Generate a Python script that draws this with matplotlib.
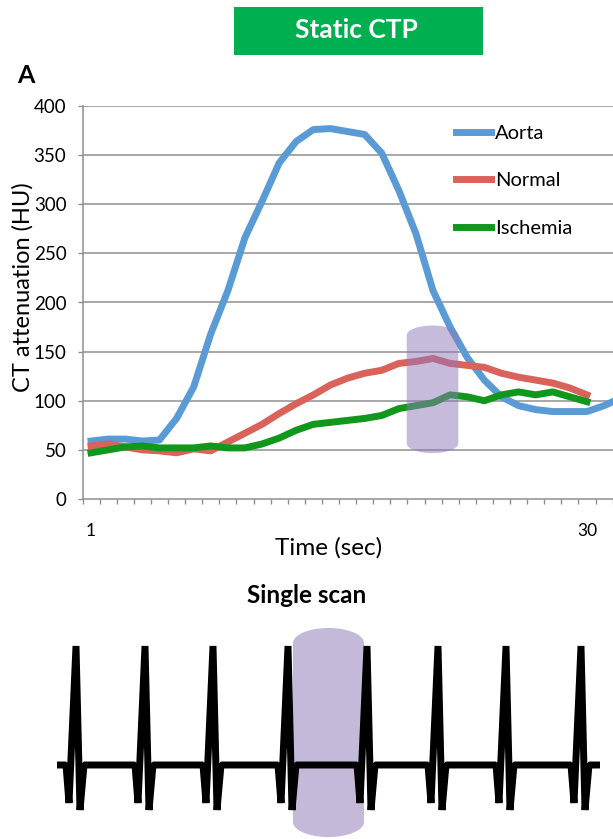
import numpy as np
import matplotlib
matplotlib.use("Agg")
import matplotlib.pyplot as plt
from matplotlib.patches import Polygon, Rectangle

plt.rcParams['font.family'] = ['Lato', 'DejaVu Sans']

# time points (sec) and the three curves
time_pts = np.arange(1, 31)
aorta = [59, 61, 61, 59, 60, 82, 114, 168, 212, 266, 303, 342, 364, 376, 377,
         374, 371, 352, 314, 270, 212, 175, 144, 121, 104, 95, 91, 89, 89, 89,
         95, 103]
normal = [54, 56, 53, 50, 49, 47, 51, 49, 58, 67, 76, 87, 97, 106, 116,
          123, 128, 131, 138, 140, 143, 138, 136, 134, 128, 124, 121, 118, 113, 106]
ischemia = [47, 50, 53, 54, 52, 52, 52, 54, 52, 52, 56, 62, 70, 76, 78,
            80, 82, 85, 92, 95, 98, 106, 104, 100, 106, 109, 106, 109, 104, 99]
series_names = ["Aorta", "Normal", "Ischemia"]
series_colors = ["#5b9bd5", "#d9625b", "#11981c"]
y_ticks = [0, 50, 100, 150, 200, 250, 300, 350, 400]
x_tick_labels = {1: "1", 30: "30"}

# scan window on the curve (time range, HU range)
scan_t = (19.46, 22.48)
scan_hu = (46.7, 176.6)

# ECG schematic: R-peak positions (px) and beat shape offsets
r_peaks = [76, 145, 213, 288, 367, 438, 506, 581]
beat_dx = [-10, -7, 0, 4, 8]
beat_y = [765, 803, 646, 810, 765]
ecg_window = (293, 364, 628, 839)

band_color = "#9079b9"


def cylinder(x0, x1, y0, y1, cap):
    # rectangle with half-ellipse caps top and bottom
    xc = (x0 + x1) / 2
    hw = (x1 - x0) / 2
    t = np.linspace(0, np.pi, 40)
    top = np.column_stack([xc + hw * np.cos(t), y1 - cap + cap * np.sin(t)])
    bot = np.column_stack([xc - hw * np.cos(t), y0 + cap - cap * np.sin(t)])
    return np.vstack([top, bot])


fig = plt.figure(figsize=(6.13, 8.39), dpi=100)

# ---- top chart
ax = fig.add_axes([82.5 / 613, 1 - 499 / 839, 1 - 82.5 / 613, 393 / 839])
grid_gray = "#8f8f8f"
for v in y_ticks[1:]:
    ax.axhline(v, color=grid_gray, lw=1.1, zorder=1)

lw = 5.0
ax.plot(np.arange(1, len(aorta) + 1), aorta, color=series_colors[0], lw=lw,
        label=series_names[0], zorder=3, solid_joinstyle='round')
ax.plot(time_pts, normal, color=series_colors[1], lw=lw,
        label=series_names[1], zorder=3, solid_joinstyle='round')
ax.plot(time_pts, ischemia, color=series_colors[2], lw=lw,
        label=series_names[2], zorder=3, solid_joinstyle='round')

ax.add_patch(Polygon(cylinder(scan_t[0], scan_t[1], scan_hu[0], scan_hu[1], 10),
                     closed=True, facecolor=band_color, alpha=0.5,
                     edgecolor='none', zorder=4))

ax.set_xlim(0.5, 0.5 + 530.5 / 17.1)
ax.set_ylim(0, 400)
for side in ["top", "right"]:
    ax.spines[side].set_visible(False)
for side in ["left", "bottom"]:
    ax.spines[side].set_color(grid_gray)
    ax.spines[side].set_linewidth(1.1)

ax.set_yticks(y_ticks)
ax.tick_params(axis='y', length=3.6, width=1.0, color=grid_gray,
               labelsize=13.5, pad=8)
ax.set_xticks(list(x_tick_labels.keys()))
ax.set_xticklabels(list(x_tick_labels.values()))
ax.set_xticks(np.arange(0.5, 32, 1), minor=True)
ax.tick_params(axis='x', which='major', length=0, labelsize=12.5, pad=17)
ax.tick_params(axis='x', which='minor', length=3.6, width=1.0, color=grid_gray)

ax.set_ylabel("CT attenuation (HU)", fontsize=17)
ax.yaxis.set_label_coords(-0.093, 0.539)
ax.set_xlabel("Time (sec)", fontsize=17.5)
ax.xaxis.set_label_coords(0.463, -0.097)

ax.legend(loc='upper left', bbox_to_anchor=((456 - 82.5) / 530.5, (499 - 125) / 393),
          frameon=False, fontsize=14.5, handlelength=1.75, handletextpad=0.2,
          labelspacing=1.5, borderaxespad=0, borderpad=0)

# ---- titles and panel letter
fig.patches.append(Rectangle((234 / 613, 1 - 55 / 839), 249 / 613, 48 / 839,
                             transform=fig.transFigure, facecolor="#00b050",
                             edgecolor='none'))
fig.text(356 / 613, 1 - 38 / 839, "Static CTP", color="white", fontsize=19,
         fontweight='bold', ha='center', va='baseline')
fig.text(17 / 613, 1 - 83 / 839, "A", fontsize=18, fontweight='bold',
         ha='left', va='baseline')
fig.text(307 / 613, 1 - 603 / 839, "Single scan", fontsize=17.5,
         fontweight='bold', ha='center', va='baseline')

# ---- ECG strip
ax2 = fig.add_axes([0, 0, 1, 1])
ax2.set_xlim(0, 613)
ax2.set_ylim(839, 0)
ax2.axis('off')

ecg_x = [r_peaks[0] - 19]
ecg_y = [beat_y[0]]
for p in r_peaks:
    ecg_x += [p + d for d in beat_dx]
    ecg_y += beat_y
ecg_x.append(r_peaks[-1] + 19)
ecg_y.append(beat_y[-1])
ax2.plot(ecg_x, ecg_y, color="black", lw=5.0, solid_joinstyle='bevel',
         solid_capstyle='butt')

ax2.add_patch(Polygon(cylinder(ecg_window[0], ecg_window[1], ecg_window[2],
                               ecg_window[3] - 2, 15),
                      closed=True, facecolor=band_color, alpha=0.52,
                      edgecolor='none'))

fig.savefig("out.png", dpi=100)
